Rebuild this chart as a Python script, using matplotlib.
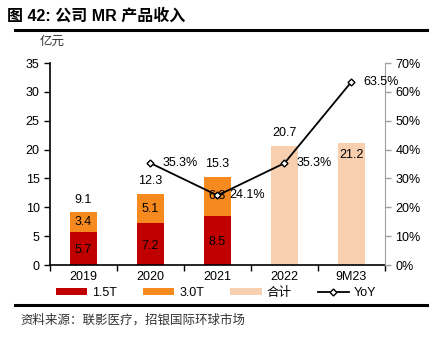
import matplotlib.pyplot as plt
import numpy as np

plt.rcParams['font.family'] = ['Liberation Sans', 'Noto Sans CJK SC', 'DejaVu Sans']

categories = ['2019', '2020', '2021', '2022', '9M23']
t15 = [5.7, 7.2, 8.5]
t30 = [3.4, 5.1, 6.8]
totals = [9.1, 12.3, 15.3, 20.7, 21.2]
yoy = [35.3, 24.1, 35.3, 63.5]

c15 = '#C00000'
c30 = '#F78A1E'
ctot = '#F8CFAF'

fig = plt.figure(figsize=(4.32, 3.42), dpi=100)
ax = fig.add_axes([50/432, 1-265/342, 335/432, 202/342])
ax2 = ax.twinx()

x = np.arange(len(categories))
w = 0.4
n = len(t15)
ax.bar(x[n:], totals[n:], w, color=ctot, label='合计', zorder=1)
ax.bar(x[:n], t15, w, color=c15, label='1.5T', zorder=2)
ax.bar(x[:n], t30, w, bottom=t15, color=c30, label='3.0T', zorder=2)

for i in range(n):
    ax.text(x[i], t15[i]/2 - 0.3, f'{t15[i]}', ha='center', va='center', fontsize=9)
    ax.text(x[i], t15[i] + t30[i]/2, f'{t30[i]}', ha='center', va='center', fontsize=9)
for i, v in enumerate(totals):
    if i == 4:
        ax.text(x[i], v - 2.2, f'{v}', ha='center', va='center', fontsize=9)
    else:
        ax.text(x[i], v + 2.2, f'{v}', ha='center', va='center', fontsize=9)

ax2.plot(x[1:], yoy, color='black', lw=1.3, marker='D', ms=3.5,
         mfc='white', mec='black', mew=1, label='YoY', zorder=5)
for xi, v in zip(x[1:], yoy):
    ax2.text(xi + 0.18, v, f'{v}%', ha='left', va='center', fontsize=9)

ax.set_xlim(-0.5, 4.5)
ax.set_ylim(0, 35)
ax.set_yticks(range(0, 36, 5))
ax2.set_ylim(0, 70)
ax2.set_yticks(range(0, 71, 10))
ax2.set_yticklabels([f'{v}%' for v in range(0, 71, 10)])
ax.set_xticks(x)
ax.set_xticklabels(categories)
ax.set_xticks(np.arange(-0.5, 5, 1), minor=True)
ax.tick_params(axis='x', which='major', length=0, labelsize=9, pad=4)
ax.tick_params(axis='x', which='minor', length=4, width=1, direction='out')
ax.tick_params(axis='y', labelsize=9, length=4, width=1)
ax2.tick_params(axis='y', labelsize=9, length=4, width=1, colors='#A0A0A0', labelcolor='black')

for a in (ax, ax2):
    a.spines['top'].set_visible(False)
ax.spines['right'].set_visible(False)
ax2.spines['left'].set_visible(False)
ax2.spines['bottom'].set_visible(False)
ax2.spines['right'].set_color('#A0A0A0')
ax.spines['left'].set_linewidth(1.2)
ax.spines['bottom'].set_linewidth(1.2)

h1, l1 = ax.get_legend_handles_labels()
h2, l2 = ax2.get_legend_handles_labels()
handles = [h1[1], h1[2], h1[0], h2[0]]
labels = [l1[1], l1[2], l1[0], l2[0]]
fig.legend(handles, labels, loc='center', bbox_to_anchor=(0.5, 1-293/342), ncol=4,
           frameon=False, fontsize=9, handlelength=2.5, handleheight=0.5,
           columnspacing=2.1, handletextpad=0.4)

fig.text(7/432, 1-16/342, '图 42: 公司 MR 产品收入', fontsize=11.5, fontweight='bold',
         va='center', ha='left')
fig.text(40/432, 1-42/342, '亿元', fontsize=9, va='center', ha='left', color='#333333')
fig.text(20/432, 1-320/342, '资料来源：联影医疗，招银国际环球市场', fontsize=9,
         va='center', ha='left', color='#333333')
fig.add_artist(plt.Line2D([15/432, 427/432], [1-30/342, 1-30/342], color='black', lw=2.2))
fig.add_artist(plt.Line2D([15/432, 427/432], [1-305/342, 1-305/342], color='black', lw=2.2))

fig.savefig('out.png', dpi=100)
